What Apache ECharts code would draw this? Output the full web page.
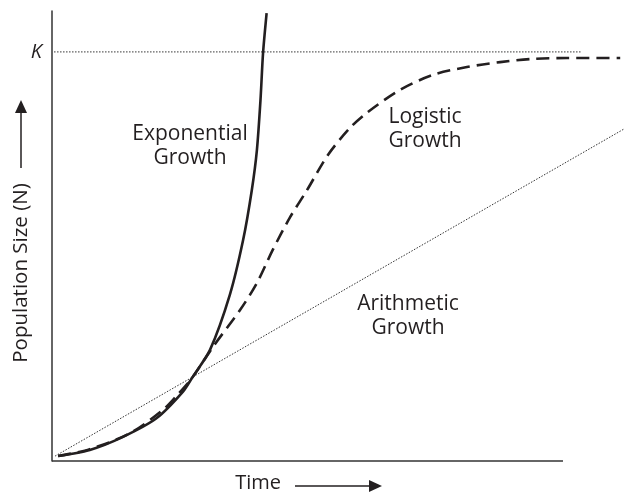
<!DOCTYPE html>
<html>
<head>
<meta charset="utf-8">
<style>html,body{margin:0;padding:0;background:#fff;}#c{width:627px;height:495px;}</style>
<script src="https://cdn.jsdelivr.net/npm/echarts@6/dist/echarts.min.js"></script>
</head>
<body>
<div id="c"></div>
<script>
// Data (time on x, population on y; K = 100)
var K = 100;
var TIME_END = 100;      // where the drawn time axis ends
var expX = [1.2, 7.4, 13.9, 20.5, 25.6, 27.4, 30.9, 34.8, 37.4, 39.1, 40.1, 40.8, 41.3, 42.0];
var expY = [1.2, 2.7, 5.9, 10.5, 16.9, 20.3, 27.1, 40.6, 54.0, 66.2, 76.0, 88.2, 99.7, 109.5];
var logX = [1.2, 7.4, 15.3, 21.7, 24.5, 27.4, 31.5, 36.8, 40.1, 43.2, 46.6, 49.9, 54.0, 58.3, 61.6, 68.1, 74.6, 81.2, 87.7, 94.1, 100.8, 111.2];
var logY = [1.2, 2.9, 6.8, 12.5, 16.1, 20.3, 27.9, 36.9, 43.5, 51.6, 59.6, 66.2, 74.8, 81.4, 85.1, 90.7, 94.4, 96.3, 97.5, 98.3, 98.5, 98.5];
var ariX = [0.6, 112];
var ariY = [1.2, 81.2];
var kX = [0.4, 103.5];
var labels = { exp: 'Exponential\nGrowth', log: 'Logistic\nGrowth', ari: 'Arithmetic\nGrowth' };

function zip(a, b) { return a.map(function (v, i) { return [v, b[i]]; }); }

var chart = echarts.init(document.getElementById('c'), null, { renderer: 'canvas' });
var FONT = '"Open Sans", "Noto Sans", sans-serif';
var INK = '#231f20';
chart.setOption({
  animation: false,
  backgroundColor: '#fff',
  textStyle: { fontFamily: FONT },
  grid: { left: 52, right: 2.7, top: 11, bottom: 34, containLabel: false, outerBoundsMode: 'none' },
  xAxis: {
    type: 'value', min: 0, max: 112,
    name: 'Time', nameLocation: 'middle', nameGap: 12, nameMoveOverlap: false,
    nameTextStyle: { fontSize: 20, color: INK, fontFamily: FONT, padding: [0, 160, 0, 0], verticalAlign: 'top' },
    axisLine: { show: false },
    axisTick: { show: false }, axisLabel: { show: false }, splitLine: { show: false }
  },
  yAxis: {
    type: 'value', min: 0, max: 110, interval: 100,
    name: 'Population Size (N)', nameLocation: 'middle', nameGap: 20, nameRotate: 90, nameMoveOverlap: false,
    nameTextStyle: { fontSize: 20.5, color: INK, fontFamily: FONT, padding: [0, 74, 0, 0] },
    axisLine: { show: true, lineStyle: { color: '#333', width: 1.5 } },
    axisTick: { show: false }, splitLine: { show: false },
    axisLabel: {
      show: true, margin: 10, fontSize: 20, fontStyle: 'italic', color: INK, fontFamily: FONT,
      formatter: function (v) { return v === K ? 'K' : ''; }
    }
  },
  series: [
    {
      name: 'K', type: 'line', data: zip(kX, [K, K]), symbol: 'none', silent: true,
      lineStyle: { color: '#333', width: 1, type: [1.5, 1.5] },
      markLine: {
        silent: true, symbol: 'none', label: { show: false },
        lineStyle: { color: '#333', width: 1.5, type: 'solid' },
        data: [[{ coord: [0, 0] }, { coord: [TIME_END, 0] }]]
      }
    },
    {
      name: 'Arithmetic', type: 'line', data: zip(ariX, ariY), symbol: 'none',
      lineStyle: { color: '#333', width: 1, type: [1.5, 1.5] }
    },
    {
      name: 'Logistic', type: 'line', data: zip(logX, logY), symbol: 'none', smooth: 0.3,
      lineStyle: { color: INK, width: 2.6, type: [13, 7] }
    },
    {
      name: 'Exponential', type: 'line', data: zip(expX, expY), symbol: 'none', smooth: 0.25, clip: false,
      lineStyle: { color: INK, width: 2.6, type: 'solid' }
    }
  ],
  graphic: [
    { type: 'text', x: 190, y: 146, style: { text: labels.exp, font: '21px ' + FONT, fill: INK, align: 'center', verticalAlign: 'middle', lineHeight: 24 } },
    { type: 'text', x: 425, y: 129, style: { text: labels.log, font: '21px ' + FONT, fill: INK, align: 'center', verticalAlign: 'middle', lineHeight: 24 } },
    { type: 'text', x: 408, y: 316, style: { text: labels.ari, font: '21px ' + FONT, fill: INK, align: 'center', verticalAlign: 'middle', lineHeight: 24 } },
    { type: 'line', shape: { x1: 21, y1: 168, x2: 21, y2: 110 }, style: { stroke: INK, lineWidth: 1.5 } },
    { type: 'polygon', shape: { points: [[15, 113], [21, 100], [27, 113]] }, style: { fill: INK } },
    { type: 'line', shape: { x1: 295, y1: 486, x2: 372, y2: 486 }, style: { stroke: INK, lineWidth: 1.5 } },
    { type: 'polygon', shape: { points: [[369, 480], [382, 486], [369, 492]] }, style: { fill: INK } }
  ]
});
</script>
</body>
</html>
